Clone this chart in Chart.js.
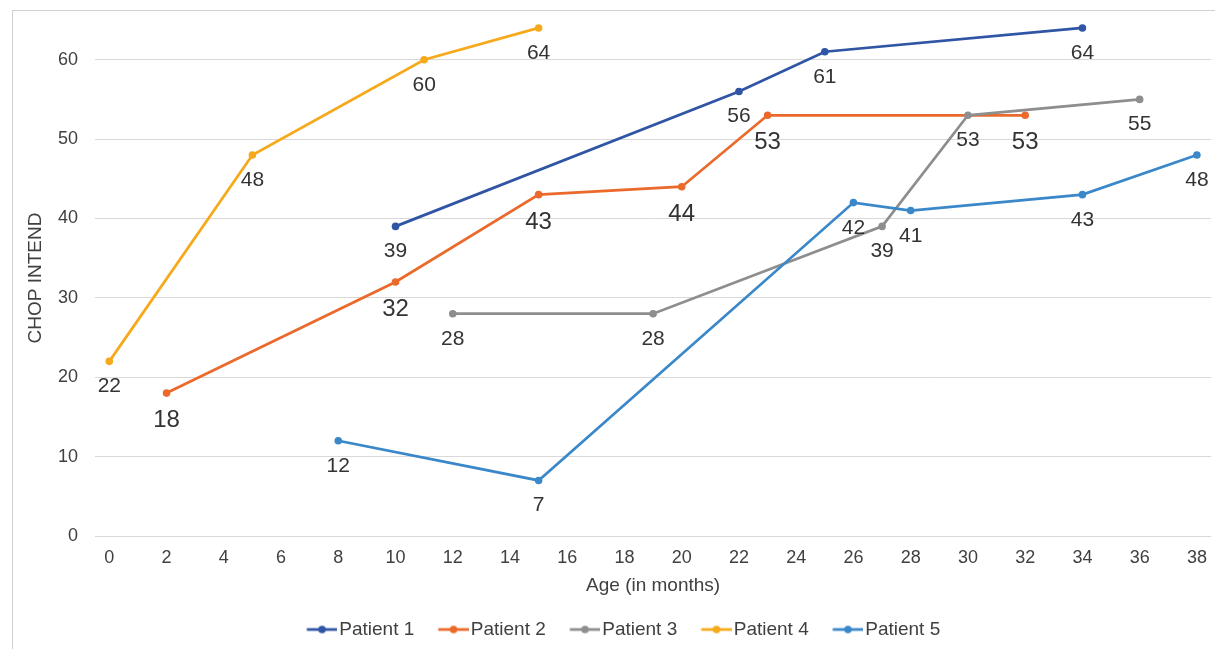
<!DOCTYPE html>
<html><head><meta charset="utf-8">
<script src="https://cdn.jsdelivr.net/npm/chart.js@4/dist/chart.umd.min.js"></script>
<style>
html,body{margin:0;padding:0;background:#fff;overflow:hidden;}
#wrap{position:absolute;left:0;top:0;width:1215px;height:649px;}
#frame{position:absolute;left:12px;top:10px;width:1220px;height:660px;border-left:1px solid #d0d0d0;border-top:1px solid #d0d0d0;pointer-events:none;}
canvas{position:absolute;left:0;top:0;}
</style></head>
<body>
<div id="wrap"><div id="frame"></div><canvas id="c" width="1215" height="649"></canvas></div>
<script>
// ---- data ----
const seriesNames = ["Patient 1","Patient 2","Patient 3","Patient 4","Patient 5"];
const p1Age = [10,22,25,34];          const p1Score = [39,56,61,64];
const p2Age = [2,10,15,20,23,32];     const p2Score = [18,32,43,44,53,53];
const p3Age = [12,19,27,30,36];       const p3Score = [28,28,39,53,55];
const p4Age = [0,5,11,15];            const p4Score = [22,48,60,64];
const p5Age = [8,15,26,28,34,38];     const p5Score = [12,7,42,41,43,48];
const xTicks = [0,2,4,6,8,10,12,14,16,18,20,22,24,26,28,30,32,34,36,38];
const yTicks = [0,10,20,30,40,50,60];

const colors = ["#2F55A4","#EB6A2B","#8E8E8E","#F6A91B","#3A88C9"];
const ages = [p1Age,p2Age,p3Age,p4Age,p5Age];
const scores = [p1Score,p2Score,p3Score,p4Score,p5Score];

const FONT = "'Liberation Sans', Arial, sans-serif";

function legendMarker(color){
  const c = document.createElement('canvas');
  c.width = 45; c.height = 10;
  const g = c.getContext('2d');
  g.strokeStyle = color; g.lineWidth = 2.75;
  g.beginPath(); g.moveTo(14.5,5); g.lineTo(45,5); g.stroke();
  g.fillStyle = color; g.beginPath(); g.arc(29.75,5,3.8,0,Math.PI*2); g.fill();
  return c;
}
const markers = colors.map(legendMarker);

const datasets = seriesNames.map((name,i)=>({
  label: name,
  data: ages[i].map((a,j)=>({x:a, y:scores[i][j]})),
  borderColor: colors[i],
  backgroundColor: colors[i],
  borderWidth: 2.75,
  pointRadius: 3.8,
  pointHoverRadius: 3.8,
  pointBorderWidth: 0,
  tension: 0,
  order: 5 - i,
  labelSize: i === 1 ? 24 : 21,
  labelOffset: i === 1 ? 34 : 31
}));

const dataLabels = {
  id: 'dataLabels',
  afterDatasetsDraw(chart){
    const ctx = chart.ctx;
    ctx.save();
    chart.data.datasets.forEach((ds, i)=>{
      const meta = chart.getDatasetMeta(i);
      ctx.font = ds.labelSize + "px " + FONT;
      ctx.fillStyle = "#333333";
      ctx.textAlign = "center";
      ctx.textBaseline = "alphabetic";
      meta.data.forEach((pt, j)=>{
        ctx.fillText(String(ds.data[j].y), pt.x, pt.y + ds.labelOffset);
      });
    });
    ctx.restore();
  }
};

const legendShift = {
  id: 'legendShift',
  afterLayout(chart){
    if (chart.legend) { chart.legend.left += 14; chart.legend.right += 14; }
  }
};

new Chart(document.getElementById('c'), {
  type: 'line',
  data: { datasets },
  plugins: [dataLabels, legendShift],
  options: {
    responsive: false,
    animation: false,
    events: [],
    layout: { padding: { left: 0, right: 3, top: 20, bottom: 0 } },
    plugins: {
      tooltip: { enabled: false },
      legend: {
        position: 'bottom',
        labels: {
          usePointStyle: true,
          pointStyleWidth: 30,
          padding: 17,
          color: '#404040',
          font: { family: FONT, size: 19 },
          sort: (a,b)=>a.datasetIndex-b.datasetIndex,
          generateLabels(chart){
            const items = Chart.defaults.plugins.legend.labels.generateLabels(chart);
            items.forEach(it=>{ it.pointStyle = markers[it.datasetIndex]; });
            return items;
          }
        }
      }
    },
    scales: {
      x: {
        type: 'linear',
        min: -0.5, max: 38.5,
        afterBuildTicks(s){ s.ticks = xTicks.map(v=>({value:v})); },
        afterFit(s){ s.height = 67; s.paddingLeft = 0; s.paddingRight = 0; },
        grid: { display: false, drawTicks: false },
        border: { display: false },
        ticks: { padding: 11, color: '#404040', font: { family: FONT, size: 18 }, maxRotation: 0, autoSkip: false },
        title: { display: true, text: 'Age (in months)', color: '#404040', font: { family: FONT, size: 19 }, padding: { top: 0, bottom: 6 } }
      },
      y: {
        min: 0, max: 65,
        afterBuildTicks(s){ s.ticks = yTicks.map(v=>({value:v})); },
        afterFit(s){ s.width = 95; s.paddingTop = 0; s.paddingBottom = 0; },
        grid: { color: '#D9D9D9', lineWidth: 1, drawTicks: false },
        border: { display: false },
        ticks: { padding: 17, color: '#404040', font: { family: FONT, size: 18 } },
        title: { display: true, text: 'CHOP INTEND', color: '#404040', font: { family: FONT, size: 19 }, padding: { top: 24, bottom: 0 } }
      }
    }
  }
});
</script>
</body></html>
